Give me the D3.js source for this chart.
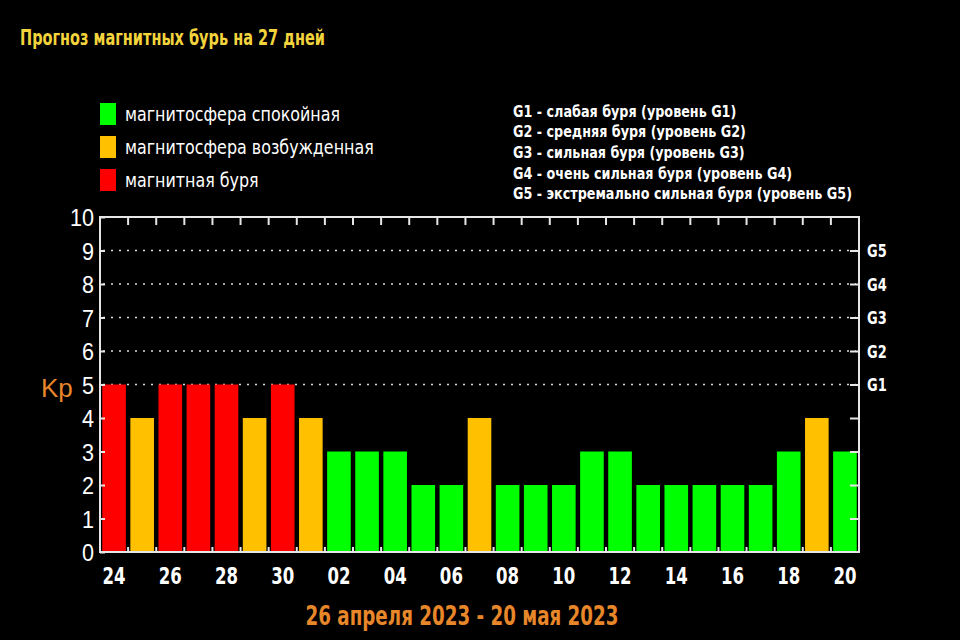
<!DOCTYPE html>
<html><head><meta charset="utf-8">
<script src="https://cdn.jsdelivr.net/npm/d3@7"></script>
<style>
body{margin:0;background:#000;}
svg{display:block;}
</style></head>
<body>
<svg id="c" width="960" height="640"></svg>
<script>
const dayLabels = ["24","25","26","27","28","29","30","01","02","03","04","05","06","07","08","09","10","11","12","13","14","15","16","17","18","19","20"];
const kpValues  = [5,4,5,5,5,4,5,4,3,3,3,2,2,4,2,2,2,3,3,2,2,2,2,2,3,4,3];
const levels = ["calm","excited","storm"];
const levelColors = ["#00ff00","#ffc000","#ff0000"];
const legendLabels = ["магнитосфера спокойная","магнитосфера возбужденная","магнитная буря"];
const gLegend = ["G1 - слабая буря (уровень G1)","G2 - средняя буря (уровень G2)","G3 - сильная буря (уровень G3)","G4 - очень сильная буря (уровень G4)","G5 - экстремально сильная буря (уровень G5)"];
const yTicks = [0,1,2,3,4,5,6,7,8,9,10];
const gridTicks = [5,6,7,8,9];
const title = "Прогноз магнитных бурь на 27 дней";
const subtitle = "26 апреля 2023 - 20 мая 2023";

const levelOf = v => v >= 5 ? 2 : (v >= 4 ? 1 : 0);
const data = dayLabels.map((d,i)=>({day:d, i, kp:kpValues[i]}));

const svg = d3.select("#c");
svg.append("rect").attr("width",960).attr("height",640).attr("fill","#000");

const L=100, R=859, T=217, B=552;
const x = d3.scaleBand().domain(d3.range(data.length)).range([L,R]).paddingInner(0.16).paddingOuter(0.08);
const y = d3.scaleLinear().domain([0,10]).range([B,T]);
const color = d3.scaleOrdinal().domain(levels).range(levelColors);
const cond = "'DejaVu Sans Condensed','DejaVu Sans',sans-serif";

function squeeze(sel, factor){
  sel.each(function(){
    const w = this.getComputedTextLength();
    d3.select(this).attr("textLength", w*factor).attr("lengthAdjust","spacingAndGlyphs");
  });
}
function factorFor(node, target){ return target / node.getComputedTextLength(); }

// title
const tt = svg.append("text").attr("x",20).attr("y",45).text(title)
  .attr("font-family",cond).attr("font-weight","bold").attr("font-size",21)
  .attr("fill","#f3d43c");
squeeze(tt, factorFor(tt.node(), 305));

// legend left
const lg = svg.append("g");
legendLabels.forEach((t,i)=>{
  const cy = 114 + i*33;
  lg.append("rect").attr("x",100).attr("y",cy-11).attr("width",16).attr("height",22).attr("fill",color(levels[i]));
  lg.append("text").attr("x",125).attr("y",cy).attr("dy","0.35em").text(t)
    .attr("font-family",cond).attr("font-size",20).attr("fill","#fff");
});
const lgTexts = lg.selectAll("text");
squeeze(lgTexts, factorFor(lgTexts.node(), 215));

// legend right
const rg = svg.append("g");
gLegend.forEach((t,i)=>{
  rg.append("text").attr("x",513).attr("y",111 + i*20.7).attr("dy","0.35em").text(t)
    .attr("font-family",cond).attr("font-weight","bold").attr("font-size",16).attr("fill","#fff");
});
const rgTexts = rg.selectAll("text");
squeeze(rgTexts, factorFor(rgTexts.nodes()[4], 339));

// gridlines
svg.append("g").selectAll("line").data(gridTicks).join("line")
  .attr("x1",L+3).attr("x2",R-3).attr("y1",d=>y(d)).attr("y2",d=>y(d))
  .attr("stroke","#ddd").attr("stroke-width",1.6).attr("stroke-dasharray","2,6");

// bars
svg.append("g").selectAll("rect").data(data).join("rect")
  .attr("x",d=>x(d.i)).attr("width",x.bandwidth())
  .attr("y",d=>y(d.kp)).attr("height",d=>y(0)-y(d.kp))
  .attr("fill",d=>color(levels[levelOf(d.kp)]));

// frame
const axisColor = "#e6e6e6";
svg.append("rect").attr("x",L).attr("y",T).attr("width",R-L).attr("height",B-T)
  .attr("fill","none").attr("stroke",axisColor).attr("stroke-width",2);

// boundary ticks top and bottom
const gapHalf = (x.step()-x.bandwidth())/2;
const bounds = d3.range(1,data.length).map(i=>x(i)-gapHalf);
svg.append("g").selectAll("line").data(bounds).join("line")
  .attr("x1",d=>d).attr("x2",d=>d).attr("y1",T).attr("y2",T+8)
  .attr("stroke",axisColor).attr("stroke-width",2);
svg.append("g").selectAll("line").data(bounds).join("line")
  .attr("x1",d=>d).attr("x2",d=>d).attr("y1",B).attr("y2",B-5)
  .attr("stroke",axisColor).attr("stroke-width",2);

// left axis
const ya = svg.append("g").attr("transform",`translate(${L},0)`)
  .call(d3.axisLeft(y).tickValues(yTicks).tickSize(-5).tickPadding(6).tickFormat(d3.format("d")));
ya.select(".domain").remove();
ya.selectAll(".tick line").attr("stroke",axisColor).attr("stroke-width",2);
ya.selectAll(".tick text").attr("fill","#fff").attr("font-family","'Liberation Sans',sans-serif").attr("font-size",24).attr("dy","0.36em");
squeeze(ya.selectAll(".tick text"), 0.9);

// right axis
const ra = svg.append("g").attr("transform",`translate(${R},0)`)
  .call(d3.axisRight(y).tickValues([1,2,3,4,5,6,7,8,9]).tickSize(-9).tickPadding(8)
    .tickFormat(d=> d>=5 ? "G"+(d-4) : ""));
ra.select(".domain").remove();
ra.selectAll(".tick line").attr("stroke",axisColor).attr("stroke-width",2);
ra.selectAll(".tick text").attr("fill","#fff").attr("font-family",cond).attr("font-weight","bold").attr("font-size",17).attr("dy","0.36em");
squeeze(ra.selectAll(".tick text").filter(function(){return this.textContent;}), 0.85);

// x labels
const xa = svg.append("g").attr("transform",`translate(0,${B})`)
  .call(d3.axisBottom(x).tickValues(d3.range(0,data.length,2)).tickSize(0).tickPadding(16)
    .tickFormat(i=>dayLabels[i]));
xa.select(".domain").remove();
xa.selectAll(".tick text").attr("fill","#fff").attr("font-family",cond).attr("font-weight","bold").attr("font-size",23).attr("dy","0.71em");
squeeze(xa.selectAll(".tick text"), 0.8);

// Kp
svg.append("text").attr("x",41).attr("y",388).attr("dy","0.35em").text("Kp")
  .attr("font-family","'Liberation Sans',sans-serif").attr("font-size",26).attr("fill","#e8862a");

// subtitle
const st = svg.append("text").attr("x",462).attr("y",616).attr("text-anchor","middle").attr("dy","0.35em").text(subtitle)
  .attr("font-family",cond).attr("font-weight","bold").attr("font-size",26).attr("fill","#e8862a");
squeeze(st, factorFor(st.node(), 313));
</script>
</body></html>
